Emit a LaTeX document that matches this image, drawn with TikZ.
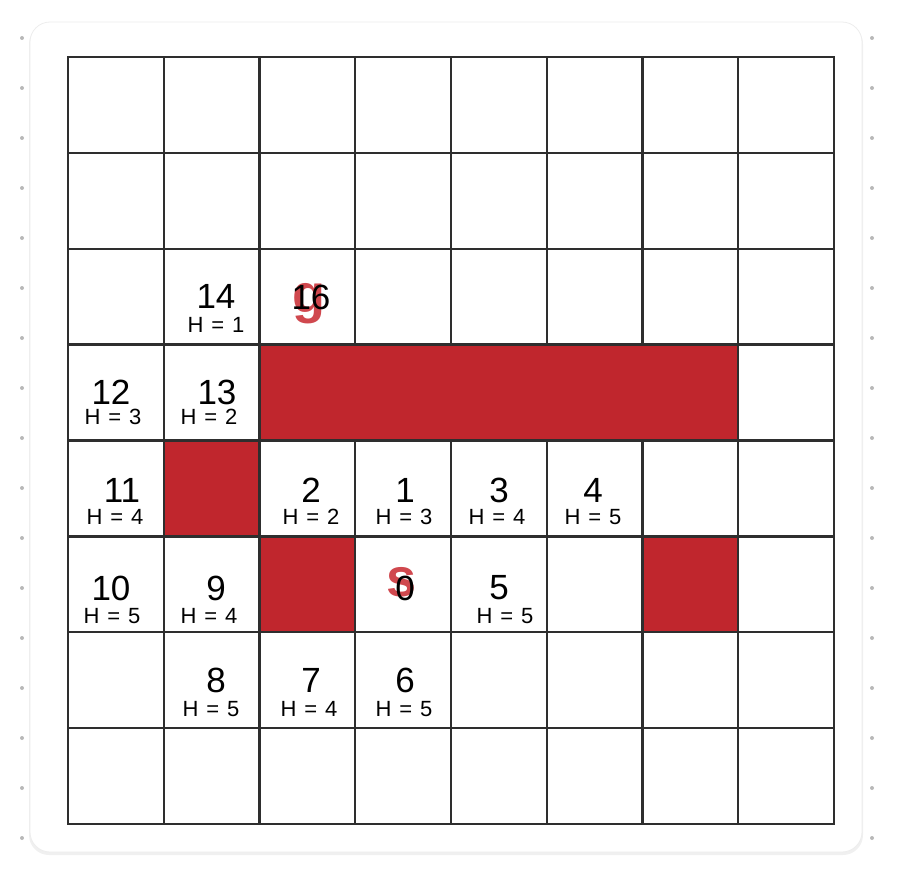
\documentclass[tikz,border=0pt]{standalone}
\usepackage{fontspec}
\setmainfont{Liberation Sans}
\definecolor{wallred}{RGB}{192,38,45}
\definecolor{redtext}{RGB}{200,40,48}
\newcommand\hval[1]{H\hspace{0.36em}=\hspace{0.36em}#1}
\begin{document}
\begin{tikzpicture}[x=1pt,y=-1pt,
  num/.style={inner sep=0pt, font=\fontsize{35}{35}\selectfont},
  hlab/.style={inner sep=0pt, font=\fontsize{22}{22}\selectfont},
  goal/.style={inner sep=0pt, anchor=base, text=redtext, opacity=0.85, font=\fontsize{54}{54}\selectfont\bfseries},
  wall/.style={fill=wallred, draw=none},
  gridline/.style={draw=black!82, line width=2.4pt, line cap=rect},
  dot/.style={fill=black!28}]
\useasboundingbox (0,0) rectangle (908,872);
% dotted margins
\foreach \y in {38,88,...,838} {
  \fill[dot] (22,\y) circle (2);
  \fill[dot] (872,\y) circle (2);
}
% card
\path[fill=black!6, rounded corners=20pt] (29,24) rectangle (863,855);
\path[fill=white, draw=black!7, line width=0.8pt, rounded corners=20pt] (30,22) rectangle (862,852);
% grid
\foreach \i in {0,...,8} {
  \draw[gridline] ({68+\i*95.75},57) -- ({68+\i*95.75},824);
  \draw[gridline] (68,{57+\i*95.875}) -- (834,{57+\i*95.875});
}
% walls
\path[wall] (259.5,344.6) rectangle (738.25,440.5);
\path[wall] (163.75,440.5) rectangle (259.5,536.4);
\path[wall] (259.5,536.4) rectangle (355.25,632.25);
\path[wall] (642.5,536.4) rectangle (738.25,632.25);
\draw[gridline] (259.5,344.6) rectangle (738.25,440.5);
\draw[gridline] (163.75,440.5) rectangle (259.5,536.4);
\draw[gridline] (259.5,536.4) rectangle (355.25,632.25);
\draw[gridline] (642.5,536.4) rectangle (738.25,632.25);
% goal and start letters
\node[goal] (goal) at (309,312) {g};
\node[goal] (start) at (402,596) {s};
% row 2
\node[num] (n14) at (216,296) {14};
\node[hlab] (h14) at (216,325) {\hval{1}};
\node[num] (n16) at (311,297) {16};
% row 3
\node[num] (n12) at (111,392) {12};
\node[hlab] (h12) at (113,417) {\hval{3}};
\node[num] (n13) at (217,392) {13};
\node[hlab] (h13) at (209,417) {\hval{2}};
% row 4
\node[num] (n11) at (122,490) {11};
\node[hlab] (h11) at (115,517) {\hval{4}};
\node[num] (n2) at (311,490) {2};
\node[hlab] (h2) at (311,517) {\hval{2}};
\node[num] (n1) at (405,490) {1};
\node[hlab] (h1) at (404,517) {\hval{3}};
\node[num] (n3) at (499,490) {3};
\node[hlab] (h3) at (497,517) {\hval{4}};
\node[num] (n4) at (593,490) {4};
\node[hlab] (h4) at (593,517) {\hval{5}};
% row 5
\node[num] (n10) at (111,588) {10};
\node[hlab] (h10) at (112,616) {\hval{5}};
\node[num] (n9) at (216,588) {9};
\node[hlab] (h9) at (209,616) {\hval{4}};
\node[num] (n0) at (405,588) {0};
\node[num] (n5) at (499,588) {5};
\node[hlab] (h5) at (505,616) {\hval{5}};
% row 6
\node[num] (n8) at (216,680) {8};
\node[hlab] (h8) at (211,709) {\hval{5}};
\node[num] (n7) at (311,680) {7};
\node[hlab] (h7) at (309,709) {\hval{4}};
\node[num] (n6) at (405,680) {6};
\node[hlab] (h6) at (404,709) {\hval{5}};
\end{tikzpicture}
\end{document}
